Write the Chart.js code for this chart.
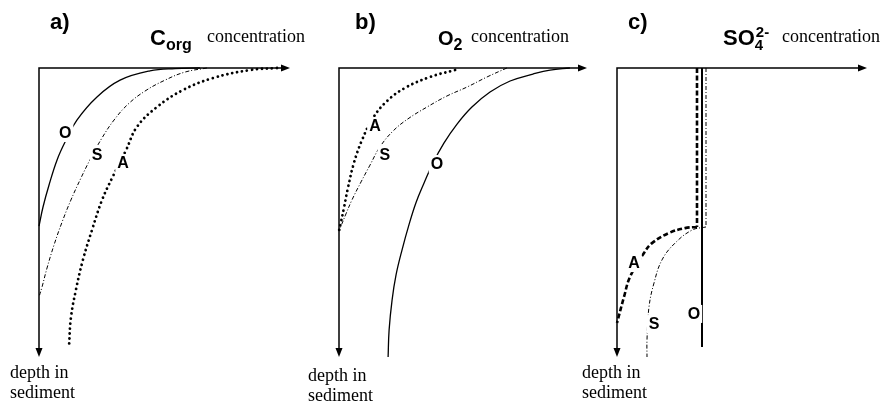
<!DOCTYPE html>
<html>
<head>
<meta charset="utf-8">
<script src="https://cdn.jsdelivr.net/npm/chart.js@4.4.1/dist/chart.umd.min.js"></script>
<style>
  html, body { margin: 0; padding: 0; background: #fff; }
  #wrap { position: relative; width: 892px; height: 403px; }
  #wrap canvas { position: absolute; left: 0; top: 0; }
</style>
</head>
<body>
<div id="wrap">
  <canvas id="pa" width="892" height="403"></canvas>
  <canvas id="pb" width="892" height="403"></canvas>
  <canvas id="pc" width="892" height="403"></canvas>
</div>
<script>
// profiles, x = concentration (0-100), y = depth (0-100, down)
// a) Corg
const corgO = [[64.1,0],[54.2,0.2],[44.2,1.0],[32.3,4.2],[23.1,10.0],[15.1,18.0],[10.8,24.9],[7.2,31.8],[4.0,40.5],[1.6,48.1],[0,54.7]];
const corgS = [[66.9,0],[58.2,1.4],[50.2,4.2],[42.2,8.0],[35.5,12.5],[29.9,18.0],[25.1,24.2],[20.7,31.1],[16.7,38.1],[12.7,45.7],[9.2,53.3],[6.0,61.2],[3.2,69.2],[1.2,75.8],[0,79.2]];
const corgA = [[94.8,0],[84.1,0.7],[69.3,3.5],[57.4,7.6],[47.0,13.5],[39.0,20.4],[34.7,28.4],[29.1,38.1],[25.1,45.7],[21.1,56.1],[17.5,66.4],[14.7,76.8],[12.7,86.5],[12.0,95.8]];
const corgLabels = [['O',10.4,22.5],['S',23.1,29.8],['A',33.5,32.9]];

// b) O2
const o2O = [[93.1,0],[85.1,0.7],[78.2,2.1],[69.0,4.5],[60.9,8.3],[53.6,13.5],[47.6,19.4],[42.3,26.0],[37.9,32.9],[34.3,39.8],[31.0,46.7],[28.2,54.3],[25.4,63.0],[23.0,71.6],[21.4,80.3],[20.2,90.7],[19.8,100]];
const o2S = [[67.7,0],[59.7,3.1],[51.6,6.6],[43.5,9.7],[35.5,13.5],[27.8,17.6],[21.8,21.8],[16.5,27.3],[12.5,33.6],[8.9,39.4],[5.2,45.7],[2.8,50.5],[0.8,54.7],[0,56.4]];
const o2A = [[46.8,0.7],[36.7,3.1],[26.6,6.9],[19.4,11.4],[13.7,17.3],[9.3,24.9],[6.0,32.9],[3.6,41.5],[2.0,48.4],[0.8,53.3],[0,56.4]];
const o2Labels = [['A',14.5,20.1],['S',18.5,29.8],['O',39.5,33.2]];

// c) SO4 2-
const so4Top = 55.0;            // depth where sulfate starts to drop
const so4A = 32.0, so4O = 34.0, so4S = 35.6;   // constant upper values
const so4ACurve = [[32,55],[27.2,55.4],[20.8,57.1],[14.0,60.6],[10.8,64.0],[5.2,72.3],[2.8,79.2],[0,88.2]];
const so4SCurve = [[35.6,55],[30,56.1],[23.2,60.6],[18,66.4],[14.8,74.4],[12.8,82.7],[12,94.1],[12,100]];
const so4OEnd = 96.5;
const so4Labels = [['A',6.8,67.5],['S',14.8,88.6],['O',30.8,85.1]];

const pts = arr => arr.map(p => ({x: p[0], y: p[1]}));

const SANS = '"Liberation Sans", Arial, sans-serif';
const SERIF = '"Liberation Serif", "Times New Roman", serif';

const solid = (w) => ({borderColor: '#000', borderWidth: w || 1.4, tension: 0.4});
const dashDot = {borderColor: '#000', borderWidth: 1, borderDash: [4, 2, 1, 2], tension: 0.4};
const dotted = {borderColor: '#000', borderWidth: 2.8, borderDash: [0.01, 5], borderCapStyle: 'round', tension: 0.4};
const dashed = {borderColor: '#000', borderWidth: 2.6, borderDash: [5, 2.5], tension: 0.4};

function chem(ctx, x, base, main, mainSize, sub, sup, subSize) {
  ctx.font = 'bold ' + mainSize + 'px ' + SANS;
  ctx.textBaseline = 'alphabetic';
  ctx.textAlign = 'left';
  ctx.fillText(main, x, base);
  let w = ctx.measureText(main).width;
  ctx.font = 'bold ' + subSize + 'px ' + SANS;
  if (sub) ctx.fillText(sub, x + w, base + 5);
  if (sup) ctx.fillText(sup, x + w + 1, base - 8);
}

const decor = {
  id: 'decor',
  afterDatasetsDraw(chart, args, o) {
    const ctx = chart.ctx;
    const a = chart.chartArea;
    const xs = chart.scales.x, ys = chart.scales.y;
    ctx.save();
    // curve labels with white boxes
    ctx.font = 'bold 16px ' + SANS;
    ctx.textAlign = 'center';
    ctx.textBaseline = 'middle';
    o.labels.forEach(l => {
      const px = xs.getPixelForValue(l[1]), py = ys.getPixelForValue(l[2]);
      const w = ctx.measureText(l[0]).width;
      ctx.fillStyle = '#fff';
      ctx.fillRect(px - w / 2 - 2, py - 9, w + 4, 18);
      ctx.fillStyle = '#000';
      ctx.fillText(l[0], px, py + 1);
    });
    // axes with arrows
    ctx.strokeStyle = '#000';
    ctx.fillStyle = '#000';
    ctx.lineWidth = 1.5;
    ctx.beginPath();
    ctx.moveTo(a.left, a.bottom - 6);
    ctx.lineTo(a.left, a.top);
    ctx.lineTo(a.right - 6, a.top);
    ctx.stroke();
    ctx.beginPath();
    ctx.moveTo(a.right, a.top);
    ctx.lineTo(a.right - 9, a.top - 3.5);
    ctx.lineTo(a.right - 9, a.top + 3.5);
    ctx.closePath();
    ctx.fill();
    ctx.beginPath();
    ctx.moveTo(a.left, a.bottom);
    ctx.lineTo(a.left - 3.5, a.bottom - 9);
    ctx.lineTo(a.left + 3.5, a.bottom - 9);
    ctx.closePath();
    ctx.fill();
    // panel letter
    ctx.textAlign = 'left';
    ctx.textBaseline = 'alphabetic';
    ctx.font = 'bold 22px ' + SANS;
    ctx.fillText(o.letter, o.letterX, 29);
    // species name
    chem(ctx, o.chemX, 45, o.chem[0], o.chem[1], o.chem[2], o.chem[3], o.chem[4]);
    ctx.font = '18px ' + SERIF;
    ctx.fillText('concentration', o.concX, 42);
    ctx.fillText('depth in', o.depthX, o.depthY);
    ctx.fillText('sediment', o.depthX, o.depthY + 20);
    ctx.restore();
  }
};

function panel(id, left, right, datasets, opts) {
  return new Chart(document.getElementById(id), {
    type: 'scatter',
    data: {datasets: datasets.map(d => Object.assign({pointRadius: 0, showLine: true, clip: false}, d))},
    options: {
      responsive: false,
      animation: false,
      devicePixelRatio: 1,
      layout: {padding: {left: left, right: 892 - right, top: 68, bottom: 403 - 357}},
      scales: {
        x: {type: 'linear', min: 0, max: 100, display: false},
        y: {type: 'linear', min: 0, max: 100, reverse: true, display: false}
      },
      plugins: {legend: {display: false}, tooltip: {enabled: false}, decor: opts}
    },
    plugins: [decor]
  });
}

panel('pa', 39, 290, [
  Object.assign({data: pts(corgO)}, solid(1.3)),
  Object.assign({data: pts(corgS)}, dashDot),
  Object.assign({data: pts(corgA)}, dotted)
], {labels: corgLabels, letter: 'a)', letterX: 50, chemX: 150, chem: ['C', 22, 'org', null, 16],
    concX: 207, depthX: 10, depthY: 378});

panel('pb', 339, 587, [
  Object.assign({data: pts(o2O)}, solid(1.3)),
  Object.assign({data: pts(o2S)}, dashDot),
  Object.assign({data: pts(o2A)}, dotted)
], {labels: o2Labels, letter: 'b)', letterX: 355, chemX: 438, chem: ['O', 20, '2', null, 16],
    concX: 471, depthX: 308, depthY: 381});

panel('pc', 617, 867, [
  Object.assign({data: pts([[so4O, 0], [so4O, so4OEnd]])}, solid(2), {tension: 0}),
  Object.assign({data: pts([[so4A, 0], [so4A, so4Top]])}, dashed, {tension: 0}),
  Object.assign({data: pts(so4ACurve)}, dashed),
  Object.assign({data: pts([[so4S, 0], [so4S, so4Top]])}, dashDot, {tension: 0}),
  Object.assign({data: pts(so4SCurve)}, dashDot)
], {labels: so4Labels, letter: 'c)', letterX: 628, chemX: 723, chem: ['SO', 22, '4', '2-', 15],
    concX: 782, depthX: 582, depthY: 378});
</script>
</body>
</html>
